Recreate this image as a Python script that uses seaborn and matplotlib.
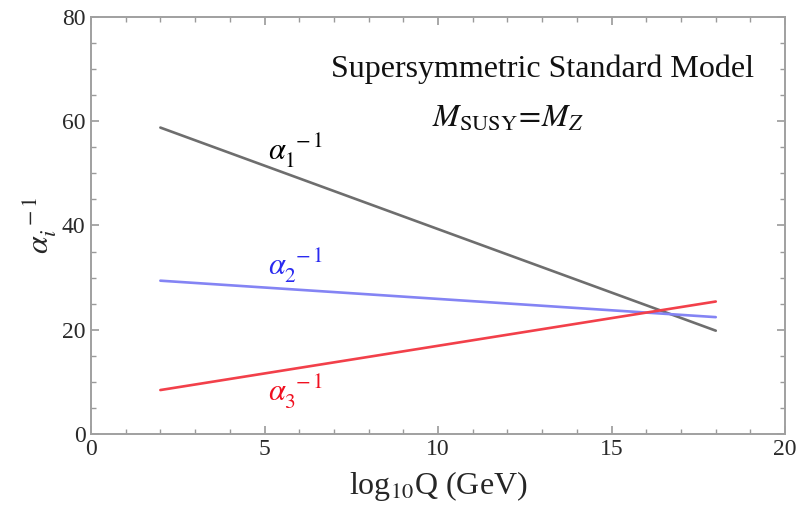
import matplotlib
matplotlib.use("Agg")
import matplotlib.pyplot as plt
from matplotlib.ticker import MultipleLocator
import seaborn as sns
import pandas as pd

# running couplings
log_q = [2, 10, 18]
alpha1_inv = [58.8, 39.3, 19.8]
alpha2_inv = [29.4, 25.9, 22.4]
alpha3_inv = [8.4, 16.9, 25.4]

names = ["a1", "a2", "a3"]
colors = {"a1": "#6e6e6e", "a2": "#8484f4", "a3": "#f2404a"}

df = pd.DataFrame({
    "logQ": log_q * 3,
    "inv": alpha1_inv + alpha2_inv + alpha3_inv,
    "which": [n for n in names for _ in log_q],
})

sns.set_style("ticks")
plt.rcParams["font.family"] = ["Liberation Serif", "DejaVu Serif"]
plt.rcParams["mathtext.fontset"] = "stix"

fig = plt.figure(figsize=(8.12, 5.05), dpi=100)
ax = fig.add_axes([0.112, 0.141, 0.855, 0.825])

sns.lineplot(data=df, x="logQ", y="inv", hue="which", palette=colors,
             linewidth=1.9, legend=False, ax=ax)

ax.set_xlim(0, 20)
ax.set_ylim(0, 80)
ax.xaxis.set_major_locator(MultipleLocator(5))
ax.xaxis.set_minor_locator(MultipleLocator(1))
ax.yaxis.set_major_locator(MultipleLocator(20))
ax.yaxis.set_minor_locator(MultipleLocator(5))
ax.tick_params(which="both", direction="in", top=True, right=True,
               color="#9a9a9a", labelsize=17, labelcolor="#2a2a2a")
ax.tick_params(axis="x", pad=4)
ax.tick_params(axis="y", pad=4)
ax.tick_params(which="major", length=6, width=1.2)
ax.tick_params(which="minor", length=3.5, width=1.0)
for sp in ax.spines.values():
    sp.set_color("#a0a0a0")
    sp.set_linewidth(1.4)

ax.set_xlabel(r"log$_{10}$Q (GeV)", fontsize=23, labelpad=6)
ax.set_ylabel(r"$\alpha_i^{\ -1}$", fontsize=23, labelpad=2)

ax.text(13.0, 70.0, "Supersymmetric Standard Model", fontsize=23,
        ha="center", va="center", color="#111111")
ax.text(12.0, 60.5, r"$M_{\rm SUSY}\!=\!M_Z$", fontsize=23,
        ha="center", va="center", color="#111111")

ax.text(5.1, 54.3, r"$\alpha_1^{\ -1}$", fontsize=22, ha="left", va="center",
        color="black")
ax.text(5.1, 32.3, r"$\alpha_2^{\ -1}$", fontsize=22, ha="left", va="center",
        color="#2a2af0")
ax.text(5.1, 8.0, r"$\alpha_3^{\ -1}$", fontsize=22, ha="left", va="center",
        color="#f01020")

fig.savefig("out.png", dpi=100)
